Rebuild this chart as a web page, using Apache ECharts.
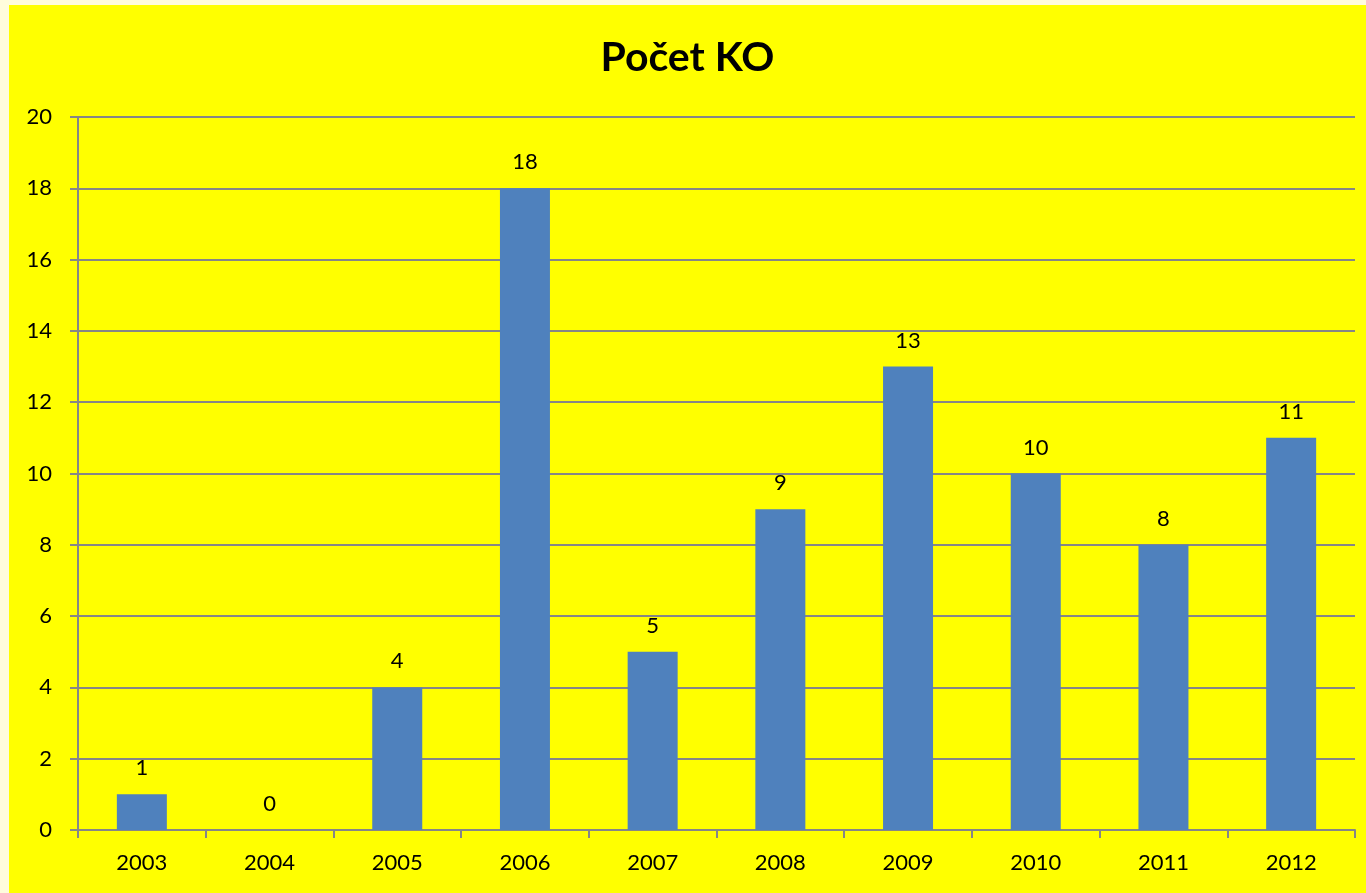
<!DOCTYPE html>
<html>
<head>
<meta charset="utf-8">
<script src="https://cdn.jsdelivr.net/npm/echarts@6/dist/echarts.min.js"></script>
<style>
html,body{margin:0;padding:0;background:#FFFCDC;width:1366px;height:893px;overflow:hidden;}
#c{position:absolute;left:9px;top:5px;width:1357px;height:888px;background:#FFFF00;}
</style>
</head>
<body>
<div id="c"></div>
<script>
const categories = ['2003','2004','2005','2006','2007','2008','2009','2010','2011','2012'];
const values = [1,0,4,18,5,9,13,10,8,11];
const titleText = 'Počet KO';

const chart = echarts.init(document.getElementById('c'), null, {renderer:'canvas'});
const font = 'Lato, "Open Sans", sans-serif';
chart.setOption({
  backgroundColor: '#FFFF00',
  animation: false,
  title: {
    text: titleText, left: 'center', top: 27,
    textStyle: {fontFamily: font, fontSize: 41, fontWeight: 'bold', color: '#000'}
  },
  grid: {left: 69, top: 112, right: 11, bottom: 63, containLabel: false},
  xAxis: {
    type: 'category', data: categories,
    axisLine: {lineStyle: {color: '#868686', width: 2}},
    axisTick: {show: true, alignWithLabel: false, length: 8, lineStyle: {color: '#868686', width: 2}},
    axisLabel: {fontFamily: font, fontSize: 22, color: '#000', margin: 22}
  },
  yAxis: {
    type: 'value', min: 0, max: 20, interval: 2,
    axisLine: {show: true, lineStyle: {color: '#868686', width: 2}},
    axisTick: {show: true, length: 8, lineStyle: {color: '#868686', width: 2}},
    splitLine: {show: true, lineStyle: {color: '#868686', width: 2}},
    axisLabel: {fontFamily: font, fontSize: 22, color: '#000', margin: 26}
  },
  series: [{
    type: 'bar', data: values, barWidth: 50,
    itemStyle: {color: '#4F81BD'},
    label: {show: true, position: 'top', distance: 15, fontFamily: font, fontSize: 22, color: '#000'}
  }]
});
</script>
</body>
</html>
